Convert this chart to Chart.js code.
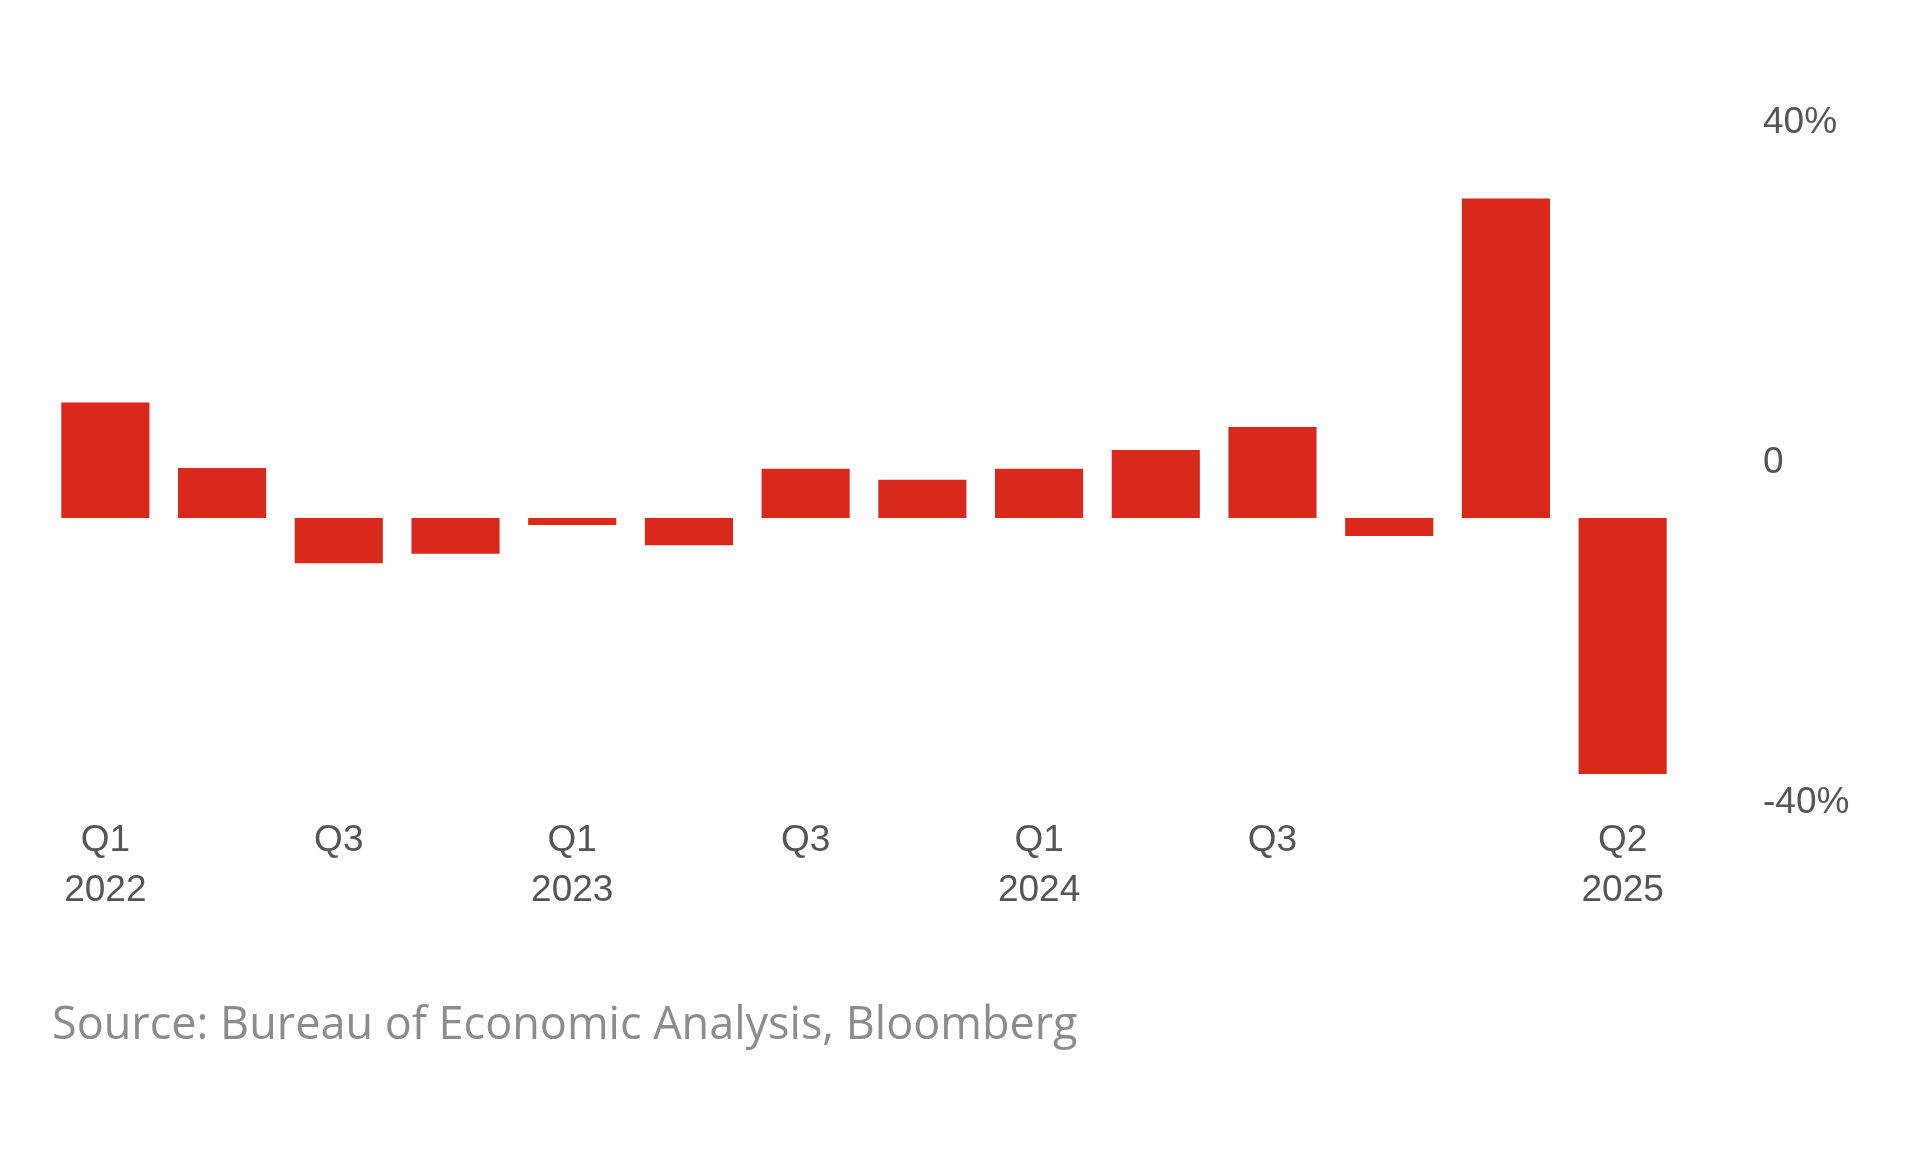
<!DOCTYPE html>
<html>
<head>
<meta charset="utf-8">
<script src="https://cdn.jsdelivr.net/npm/chart.js@4.4.1/dist/chart.umd.min.js"></script>
<style>
  html, body { margin: 0; padding: 0; background: #ffffff; }
  #wrap { position: relative; width: 1920px; height: 1152px; }
  #source {
    position: absolute; left: 52px; top: 991px;
    font-family: "Open Sans", "Noto Sans", sans-serif;
    font-size: 45px; color: #8c8c8c; white-space: nowrap;
  }
</style>
</head>
<body>
<div id="wrap">
  <canvas id="importsChart" width="1920" height="1152"></canvas>
  <div id="source">Source: Bureau of Economic Analysis, Bloomberg</div>
</div>
<script>
const quarters = [
  "Q1 2022", "Q2 2022", "Q3 2022", "Q4 2022",
  "Q1 2023", "Q2 2023", "Q3 2023", "Q4 2023",
  "Q1 2024", "Q2 2024", "Q3 2024", "Q4 2024",
  "Q1 2025", "Q2 2025"
];
// % change, annualized
const changes = [13.6, 5.9, -5.3, -4.2, -0.8, -3.2, 5.8, 4.5, 5.8, 8.0, 10.7, -2.1, 37.6, -30.1];
// only some quarters get a label
const tickLabels = [
  ["Q1", "2022"], "", ["Q3"], "",
  ["Q1", "2023"], "", ["Q3"], "",
  ["Q1", "2024"], "", ["Q3"], "",
  "", ["Q2", "2025"]
];
const yTickValues = [-40, 0, 40];

const ctx = document.getElementById("importsChart").getContext("2d");

new Chart(ctx, {
  type: "bar",
  data: {
    labels: quarters,
    datasets: [{
      label: "Imports",
      data: changes,
      backgroundColor: "#d9291c",
      borderWidth: 0,
      categoryPercentage: 1.0,
      barPercentage: 0.755
    }]
  },
  options: {
    responsive: false,
    animation: false,
    layout: {
      padding: { left: 47, right: 49, top: 110, bottom: 240 }
    },
    plugins: {
      legend: { display: false },
      tooltip: { enabled: false }
    },
    scales: {
      x: {
        grid: { display: false },
        border: { display: false },
        afterFit: function(axis) { axis.height = 104; },
        ticks: {
          autoSkip: false,
          maxRotation: 0,
          padding: 0,
          color: "#555555",
          font: { family: "'Liberation Sans', Arial, sans-serif", size: 37, lineHeight: 1.35 },
          callback: function(value, index) {
            return tickLabels[index];
          }
        }
      },
      y: {
        display: false,
        min: -34.1,
        max: 48
      },
      // label axis on the right: the labels sit a bit above their values
      yLabels: {
        position: "right",
        min: -40.6,
        max: 41.5,
        grid: { display: false },
        border: { display: false },
        afterFit: function(axis) { axis.width = 190; },
        afterBuildTicks: function(axis) {
          axis.ticks = yTickValues.map(v => ({ value: v }));
        },
        ticks: {
          padding: 74,
          color: "#555555",
          font: { family: "'Liberation Sans', Arial, sans-serif", size: 37 },
          callback: function(value) {
            return value === 0 ? "0" : value + "%";
          }
        }
      }
    }
  }
});
</script>
</body>
</html>
